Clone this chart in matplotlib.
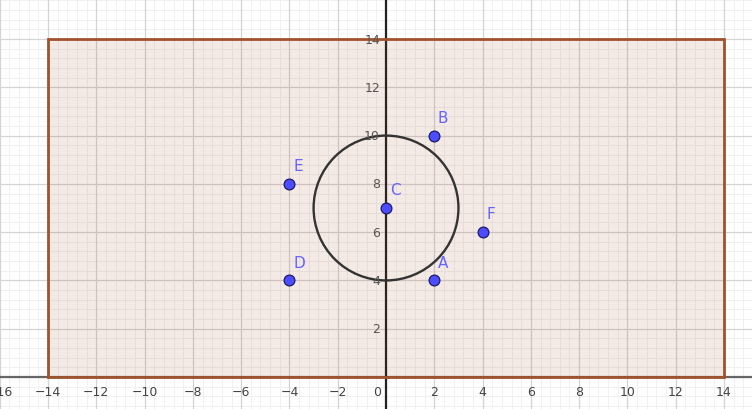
import numpy as np
import matplotlib
matplotlib.use("Agg")
import matplotlib.pyplot as plt
from matplotlib.patches import Polygon, Circle

# points
point_names = ["A", "B", "C", "D", "E", "F"]
point_x = [2, 2, 0, -4, -4, 4]
point_y = [4, 10, 7, 4, 8, 6]

# rectangle region and circle
rect_x = [-14, 14, 14, -14]
rect_y = [0, 0, 14, 14]
circle_center = (0, 7)
circle_radius = 3

x_ticks = list(range(-16, 16, 2))
y_ticks = list(range(2, 16, 2))

fig = plt.figure(figsize=(7.52, 4.10), dpi=100)
ax = fig.add_axes([0, 0, 1, 1])
ax.set_xlim(-15.99, 15.16)
ax.set_ylim(-1.325, 15.657)
ax.set_axis_off()

# grid: minor every 0.4, major every 2
for v in np.arange(-16, 16.01, 0.4):
    ax.axvline(v, color="#f0f0f0", lw=0.7, zorder=0)
for v in np.arange(-2, 16.01, 0.4):
    ax.axhline(v, color="#f0f0f0", lw=0.7, zorder=0)
for v in range(-16, 17, 2):
    ax.axvline(v, color="#d4d4d4", lw=0.9, zorder=0.5)
for v in range(-2, 17, 2):
    ax.axhline(v, color="#d4d4d4", lw=0.9, zorder=0.5)

# axes lines
ax.axhline(0, color="#666666", lw=1.6, zorder=1)
ax.axvline(0, color="#222222", lw=1.6, zorder=1)

# rectangle
poly = Polygon(list(zip(rect_x, rect_y)), closed=True, facecolor="#993300",
               alpha=0.1, edgecolor="none", zorder=2)
ax.add_patch(poly)
edge = Polygon(list(zip(rect_x, rect_y)), closed=True, facecolor="none",
               edgecolor="#a0522d", lw=2.0, zorder=3)
ax.add_patch(edge)

# circle
ax.add_patch(Circle(circle_center, circle_radius, facecolor="none",
                    edgecolor="#333333", lw=1.7, zorder=4))

# tick labels
for v in x_ticks:
    lbl = "0" if v == 0 else f"\u2212{abs(v)}" if v < 0 else str(v)
    xx = -0.35 if v == 0 else v
    ax.text(xx, -0.58, lbl, ha="center", va="center", fontsize=9,
            color="#444444", zorder=5)
for v in y_ticks:
    ax.text(-0.25, v, str(v), ha="right", va="center", fontsize=9,
            color="#555555", zorder=5)

# points
ax.scatter(point_x, point_y, s=60, color="#4d4dff", edgecolor="#1a1a66",
           linewidth=0.9, zorder=6)
for n, px, py in zip(point_names, point_x, point_y):
    ax.text(px + 0.15, py + 0.45, n, fontsize=11, color="#6464ff",
            ha="left", va="bottom", zorder=7)

fig.savefig("out.png", dpi=100)
